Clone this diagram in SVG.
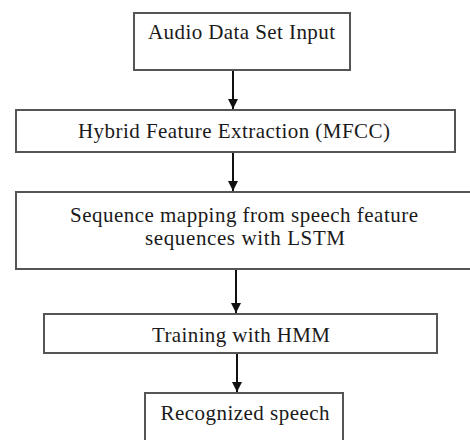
<svg xmlns="http://www.w3.org/2000/svg" width="470" height="440" viewBox="0 0 470 440">
  <style>
    .box { fill: #ffffff; stroke: #555555; stroke-width: 2; }
    .lbl { font-family: "Liberation Serif", "Times New Roman", serif; font-size: 21px; fill: #1a1a1a; text-anchor: middle; }
    .edge { stroke: #111111; stroke-width: 2; fill: none; }
  </style>
  <defs>
    <marker id="arrow" viewBox="0 0 10 10" refX="10" refY="5" markerWidth="10" markerHeight="10" markerUnits="userSpaceOnUse" orient="auto">
      <path d="M0,0 L10,5 L0,10 Z" fill="#111111"/>
    </marker>
  </defs>
  <rect width="470" height="440" fill="#ffffff"/>

  <g id="connectors">
    <line class="edge" x1="233" y1="70" x2="233" y2="109" marker-end="url(#arrow)"/>
    <line class="edge" x1="233" y1="152" x2="233" y2="191" marker-end="url(#arrow)"/>
    <line class="edge" x1="236" y1="269" x2="236" y2="313" marker-end="url(#arrow)"/>
    <line class="edge" x1="237" y1="353" x2="237" y2="392" marker-end="url(#arrow)"/>
  </g>

  <g id="audio-input">
    <rect class="box" x="134" y="13" width="216" height="57"/>
    <text class="lbl" x="241.5" y="39" textLength="187" lengthAdjust="spacing">Audio Data Set Input</text>
  </g>

  <g id="feature-extraction">
    <rect class="box" x="16" y="110" width="439" height="42"/>
    <text class="lbl" x="234" y="138" textLength="312" lengthAdjust="spacing">Hybrid Feature Extraction (MFCC)</text>
  </g>

  <g id="sequence-mapping">
    <rect class="box" x="16" y="192" width="470" height="77"/>
    <text class="lbl" x="244" y="222" textLength="348" lengthAdjust="spacing">Sequence mapping from speech feature</text>
    <text class="lbl" x="245" y="245" textLength="200" lengthAdjust="spacing">sequences with LSTM</text>
  </g>

  <g id="hmm-training">
    <rect class="box" x="44" y="314" width="393" height="39"/>
    <text class="lbl" x="241" y="342" textLength="178" lengthAdjust="spacing">Training with HMM</text>
  </g>

  <g id="recognized-speech">
    <rect class="box" x="145" y="393" width="198" height="60"/>
    <text class="lbl" x="245" y="420" textLength="169" lengthAdjust="spacing">Recognized speech</text>
  </g>
</svg>
